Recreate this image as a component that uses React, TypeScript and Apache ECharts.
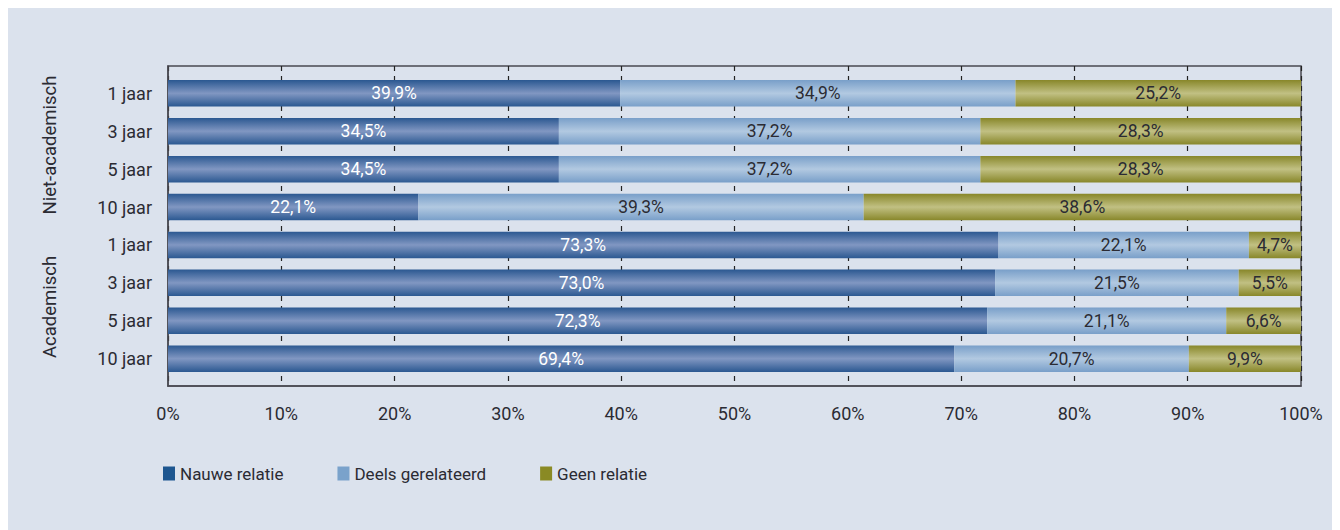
import React, { useEffect, useRef } from "react";
import * as echarts from "echarts";

const categories = ["1 jaar", "3 jaar", "5 jaar", "10 jaar", "1 jaar ", "3 jaar ", "5 jaar ", "10 jaar "];
const nauwe = [39.9, 34.5, 34.5, 22.1, 73.3, 73.0, 72.3, 69.4];
const deels = [34.9, 37.2, 37.2, 39.3, 22.1, 21.5, 21.1, 20.7];
const geen = [25.2, 28.3, 28.3, 38.6, 4.7, 5.5, 6.6, 9.9];
const seriesNames = ["Nauwe relatie", "Deels gerelateerd", "Geen relatie"];
const groupLabels = ["Niet-academisch", "Academisch"];
const xTicks = [0, 100, 10];

const FONT = "Roboto";
const TEXT = "#2b2b33";

function grad(edge: string, mid: string) {
  return new echarts.graphic.LinearGradient(0, 0, 0, 1, [
    { offset: 0, color: edge },
    { offset: 0.5, color: mid },
    { offset: 1, color: edge },
  ]);
}

const fmt = (p: any) => (p.value as number).toFixed(1).replace(".", ",") + "%";

export default function App() {
  const ref = useRef<HTMLDivElement>(null);
  useEffect(() => {
    if (!ref.current) return;
    const chart = echarts.init(ref.current, null, { renderer: "svg" });
    const labelBase = { show: true, position: "inside", fontFamily: FONT, fontSize: 17.5, formatter: fmt };
    chart.setOption({
      animation: false,
      backgroundColor: "#dbe2ed",
      textStyle: { fontFamily: FONT },
      grid: [
        { left: 160, right: 39, top: 66.4, bottom: 152.4, containLabel: false },
        { left: 160, right: 39, top: 58, bottom: 144, show: true, borderColor: "#4a4a52", borderWidth: 1.5, backgroundColor: "transparent" },
      ],
      legend: {
        left: 150,
        top: 452,
        itemWidth: 12,
        itemHeight: 14,
        itemGap: 54,
        icon: "rect",
        textStyle: { fontFamily: FONT, fontSize: 17, color: TEXT },
        data: [
          { name: seriesNames[0], itemStyle: { color: "#1d5690" } },
          { name: seriesNames[1], itemStyle: { color: "#7aa2cb" } },
          { name: seriesNames[2], itemStyle: { color: "#8a8a24" } },
        ],
      },
      xAxis: [
        { gridIndex: 0, type: "value", min: xTicks[0], max: xTicks[1], show: false },
        {
          gridIndex: 1,
          type: "value",
          min: xTicks[0],
          max: xTicks[1],
          interval: xTicks[2],
          axisLine: { show: true, lineStyle: { color: "#4a4a52", width: 1.5 } },
          axisTick: { show: false },
          axisLabel: { formatter: "{value}%", fontFamily: FONT, fontSize: 18, color: TEXT, margin: 18 },
          splitLine: { show: true, lineStyle: { color: "#222", type: [5, 5], width: 1.2 } },
        },
      ],
      yAxis: [
        {
          gridIndex: 0,
          type: "category",
          data: categories,
          inverse: true,
          axisLine: { show: false },
          axisTick: { show: false },
          axisLabel: { fontFamily: FONT, fontSize: 18, color: TEXT, margin: 16, formatter: (v: string) => v.trim() },
        },
        {
          gridIndex: 1,
          type: "value",
          min: 0,
          max: 1,
          axisLine: { show: true, lineStyle: { color: "#4a4a52", width: 1.5 } },
          axisTick: { show: false },
          axisLabel: { show: false },
          splitLine: { show: false },
        },
      ],
      graphic: [
        {
          type: "text",
          x: 42,
          y: 137,
          rotation: Math.PI / 2,
          style: { text: groupLabels[0], fontFamily: FONT, fontSize: 18.5, fill: TEXT, align: "center", verticalAlign: "middle" },
        },
        {
          type: "text",
          x: 42,
          y: 299,
          rotation: Math.PI / 2,
          style: { text: groupLabels[1], fontFamily: FONT, fontSize: 18.5, fill: TEXT, align: "center", verticalAlign: "middle" },
        },
      ],
      series: [
        {
          name: seriesNames[0],
          type: "bar",
          stack: "s",
          xAxisIndex: 0,
          yAxisIndex: 0,
          data: nauwe,
          barCategoryGap: "30%",
          itemStyle: { color: grad("#2b5891", "#8197c2") },
          label: { ...labelBase, color: "#ffffff" },
        },
        {
          name: seriesNames[1],
          type: "bar",
          stack: "s",
          xAxisIndex: 0,
          yAxisIndex: 0,
          data: deels,
          barCategoryGap: "30%",
          itemStyle: { color: grad("#799fc9", "#b2c9e1") },
          label: { ...labelBase, color: TEXT },
        },
        {
          name: seriesNames[2],
          type: "bar",
          stack: "s",
          xAxisIndex: 0,
          yAxisIndex: 0,
          data: geen,
          barCategoryGap: "30%",
          itemStyle: { color: grad("#88872a", "#c1c083") },
          label: { ...labelBase, color: TEXT },
        },
      ],
    });
    return () => chart.dispose();
  }, []);
  return <div ref={ref} style={{ width: 1332, height: 522 }} />;
}
